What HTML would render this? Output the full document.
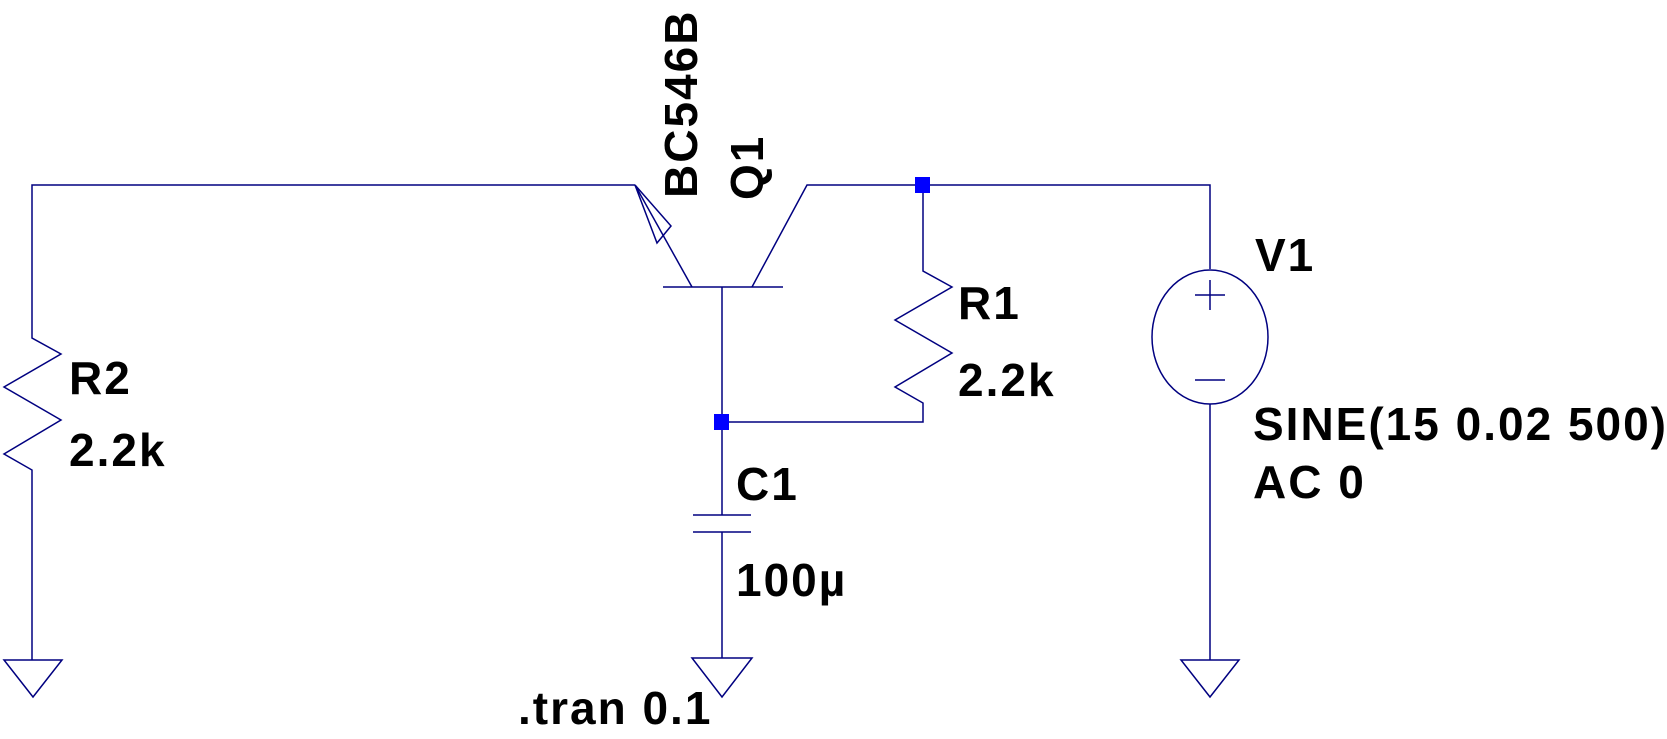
<!DOCTYPE html>
<html><head><meta charset="utf-8"><style>
html,body{margin:0;padding:0;background:#fff;}
svg{display:block}
text{font-family:"Liberation Sans",sans-serif;font-weight:bold;font-size:46px;letter-spacing:2px;fill:#000}
</style></head><body>
<svg width="1667" height="739" viewBox="0 0 1667 739" xmlns="http://www.w3.org/2000/svg">
<g stroke="#000080" stroke-width="1.5" fill="none">
<polyline points="635,185 32,185 32,338 61,354 4,387 61,420 4,454 32,470 32,660"/>
<polygon points="4,660 62,660 33,697"/>
<line x1="635" y1="185" x2="692" y2="287"/>
<polygon points="635,185 657,243 671,226"/>
<line x1="663" y1="287" x2="783" y2="287"/>
<polyline points="752,287 807,185 1210,185 1210,269"/>
<line x1="722" y1="287" x2="722" y2="515"/>
<line x1="693" y1="515" x2="751" y2="515"/>
<line x1="693" y1="532" x2="751" y2="532"/>
<line x1="722" y1="532" x2="722" y2="658"/>
<polygon points="692,658 752,658 722,697"/>
<polyline points="923,185 923,271 952,287 895,320 952,353 895,387 923,403 923,422 722,422"/>
<ellipse cx="1210" cy="337" rx="58" ry="67"/>
<line x1="1195" y1="295" x2="1225" y2="295"/>
<line x1="1210" y1="280" x2="1210" y2="310"/>
<line x1="1195" y1="380" x2="1225" y2="380"/>
<line x1="1210" y1="404" x2="1210" y2="660"/>
<polygon points="1181,660 1239,660 1210,697"/>
</g>
<rect x="915" y="177" width="15" height="16" fill="#0000ff"/>
<rect x="714" y="414" width="15" height="16" fill="#0000ff"/>
<text x="69" y="394">R2</text>
<text x="69" y="466">2.2k</text>
<text x="958" y="319">R1</text>
<text x="958" y="396">2.2k</text>
<text x="1255" y="271">V1</text>
<text x="736" y="500">C1</text>
<text x="736" y="596">100µ</text>
<text x="518" y="724">.tran 0.1</text>
<text x="1253" y="440">SINE(15 0.02 500)</text>
<text x="1253" y="498">AC 0</text>
<text transform="translate(697,198) rotate(-90)">BC546B</text>
<text transform="translate(763,200) rotate(-90)">Q1</text>
</svg>
</body></html>
